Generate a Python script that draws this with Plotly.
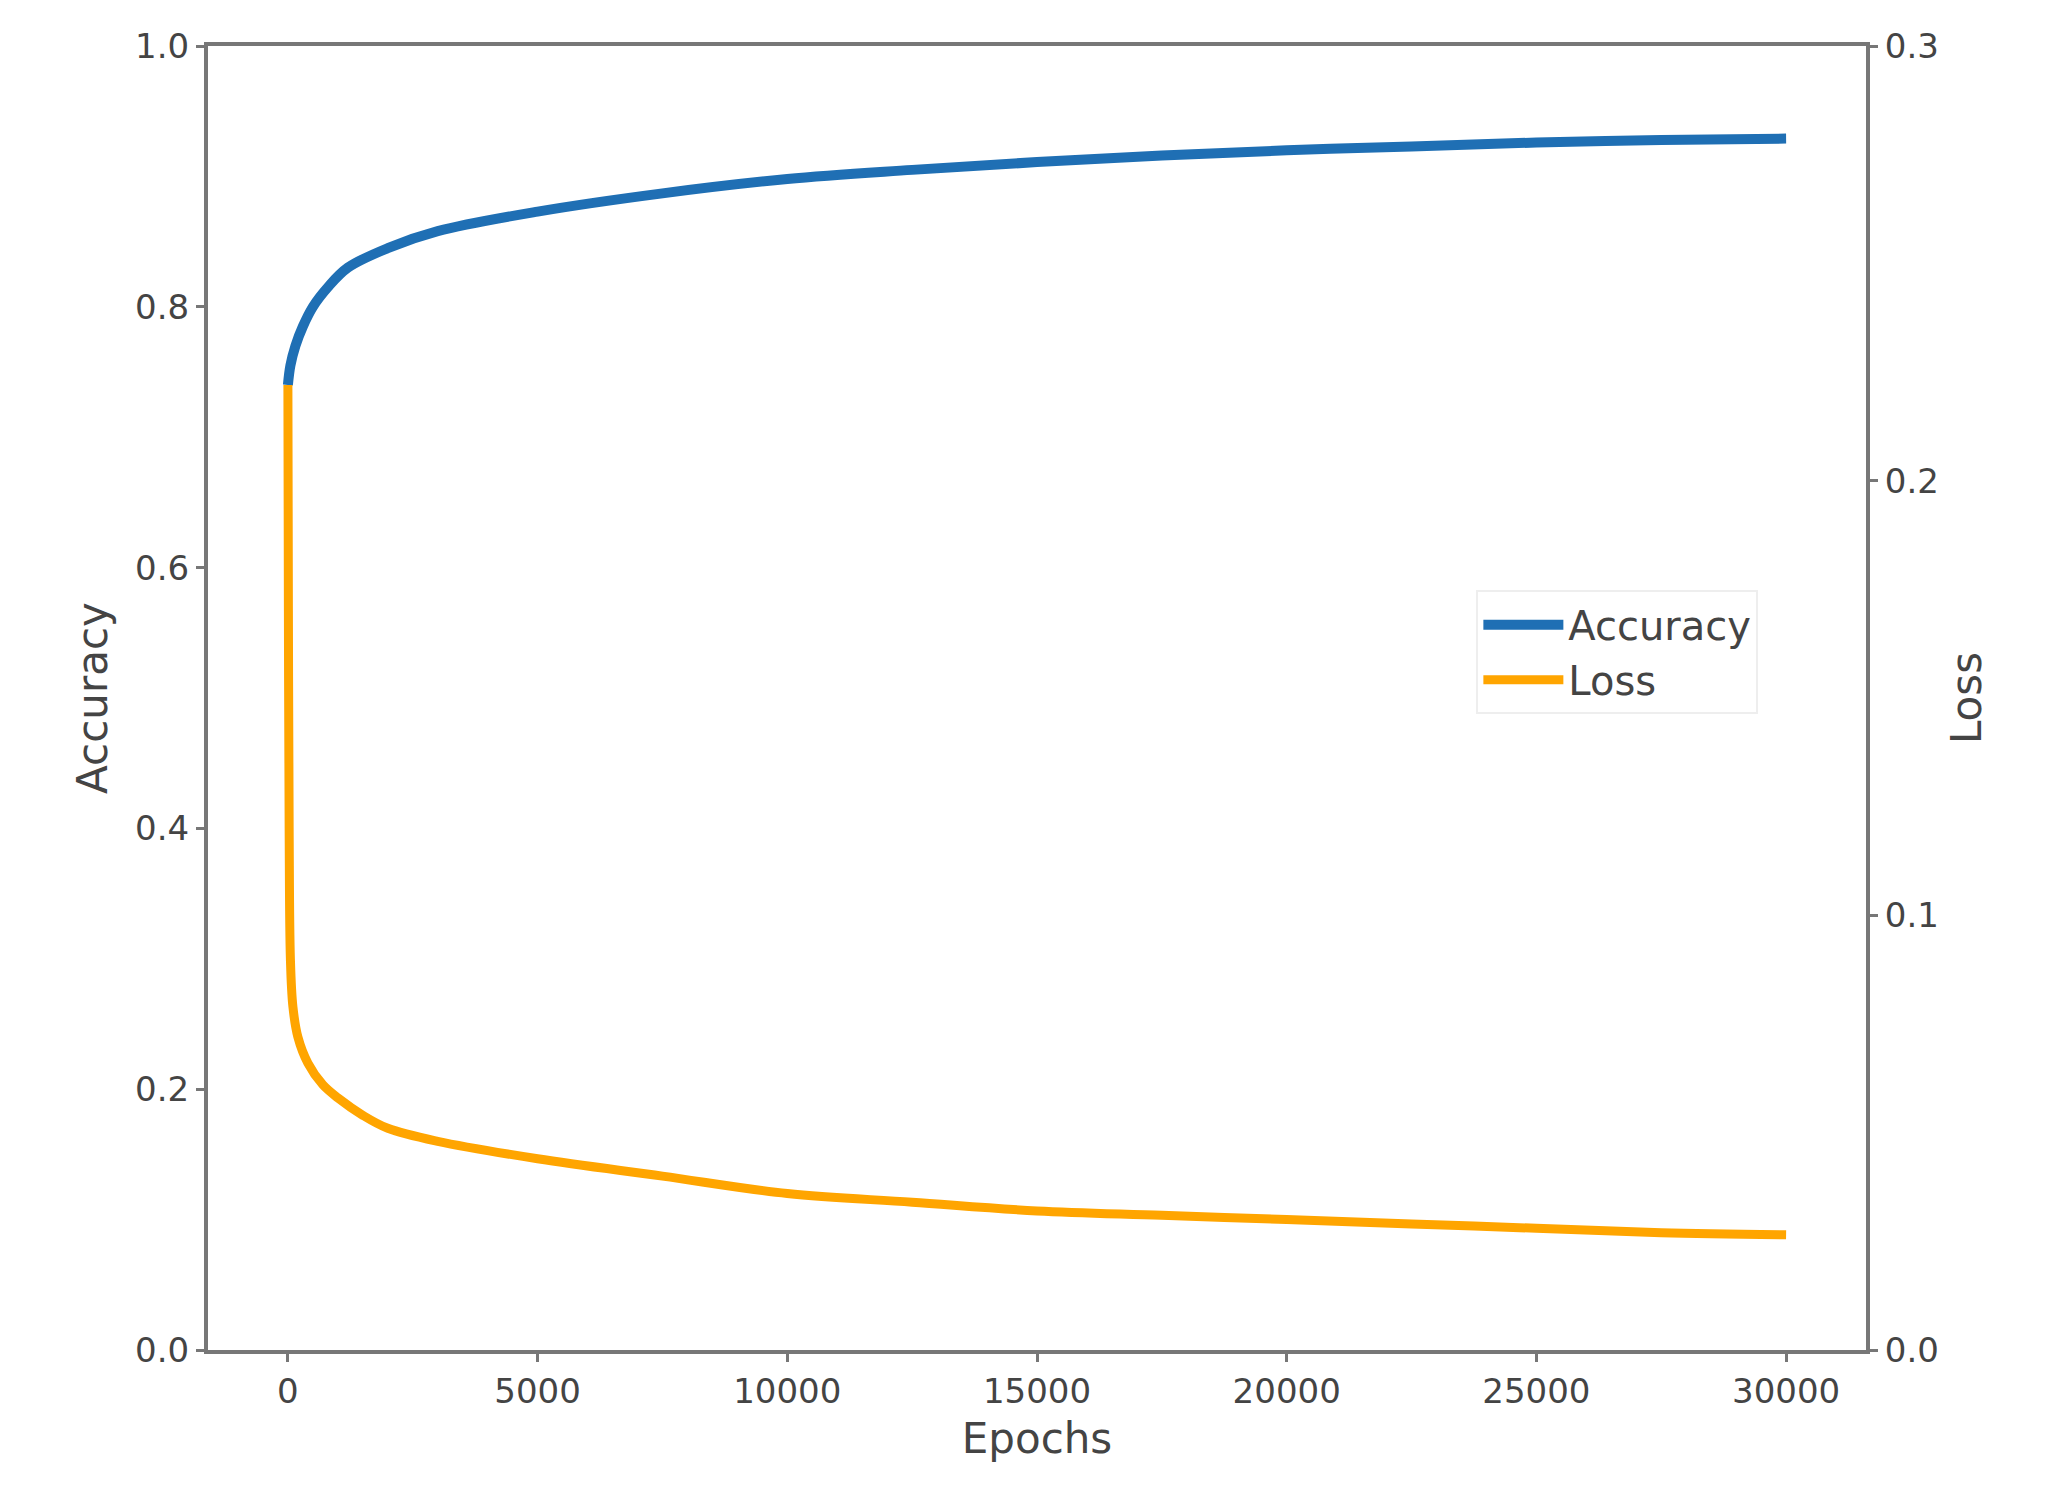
import plotly.graph_objects as go

epochs = [0, 50, 150, 300, 500, 800, 1200, 2000, 3000, 5000, 7500, 10000, 12500, 15000, 17500, 20000, 22500, 25000, 27500, 30000]
accuracy = [0.74, 0.755, 0.77, 0.785, 0.80, 0.815, 0.83, 0.845, 0.858, 0.873, 0.887, 0.898, 0.905, 0.911, 0.916, 0.920, 0.923, 0.926, 0.928, 0.929]
loss_epochs = [0, 10, 25, 50, 100, 200, 400, 700, 1000, 1500, 2000, 3000, 5000, 7500, 10000, 12500, 15000, 17500, 20000, 22500, 25000, 27500, 30000]
loss = [0.222, 0.17, 0.12, 0.09, 0.079, 0.072, 0.066, 0.061, 0.058, 0.054, 0.051, 0.048, 0.044, 0.040, 0.036, 0.034, 0.032, 0.031, 0.030, 0.029, 0.028, 0.027, 0.0265]

x_ticks = [0, 5000, 10000, 15000, 20000, 25000, 30000]
x_tick_labels = ["0", "5000", "10000", "15000", "20000", "25000", "30000"]
axis_color = "#777777"
font = dict(family="DejaVu Sans", size=34, color="#444444")

fig = go.Figure()
fig.add_trace(go.Scatter(x=epochs, y=accuracy, name="Accuracy", mode="lines",
                         line=dict(color="#1f6fb4", width=10, shape="spline")))
fig.add_trace(go.Scatter(x=loss_epochs, y=loss, name="Loss", mode="lines", yaxis="y2",
                         line=dict(color="#ffa500", width=9, shape="spline")))

common = dict(showgrid=False, zeroline=False, showline=True, linecolor=axis_color, linewidth=4,
              ticks="outside", tickcolor=axis_color, ticklen=8, tickwidth=3)
fig.update_layout(
    width=2048, height=1512, plot_bgcolor="white", paper_bgcolor="white",
    margin=dict(l=200, r=190, t=38, b=170), font=font,
    xaxis=dict(range=[-1600, 31600], tickvals=x_ticks, ticktext=x_tick_labels, mirror=True,
               title=dict(text="Epochs", font=dict(size=42)), **common),
    yaxis=dict(range=[0, 1.0], dtick=0.2, tickformat=".1f",
               title=dict(text="Accuracy", font=dict(size=42)), **common),
    yaxis2=dict(range=[0, 0.3], dtick=0.1, tickformat=".1f", overlaying="y", side="right",
                title=dict(text="Loss", font=dict(size=42)), **common),
    legend=dict(x=0.765, y=0.535, xanchor="left", yanchor="middle", bgcolor="white",
                bordercolor="#eeeeee", borderwidth=2, font=dict(size=40),
                itemwidth=80, tracegroupgap=10),
)
fig.write_html("out.html")
